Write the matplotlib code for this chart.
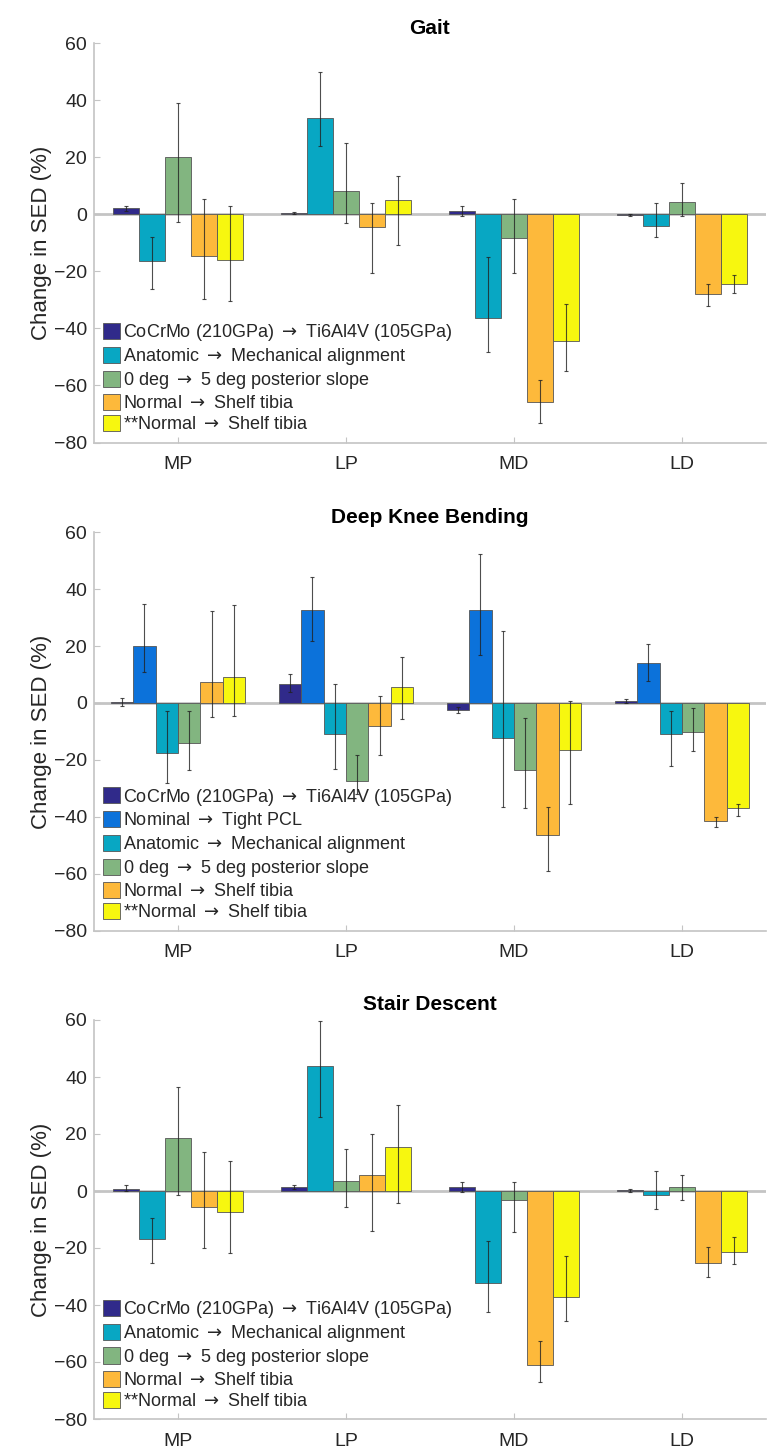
import numpy as np
import matplotlib
matplotlib.use("Agg")
import matplotlib.pyplot as plt

plt.rcParams['font.family'] = ['Liberation Sans', 'DejaVu Sans']
plt.rcParams['mathtext.fontset'] = 'dejavusans'

regions = ['MP', 'LP', 'MD', 'LD']

arr = r'$\rightarrow$'
lbl_mat = 'CoCrMo (210GPa) ' + arr + ' Ti6Al4V (105GPa)'
lbl_pcl = 'Nominal ' + arr + ' Tight PCL'
lbl_align = 'Anatomic ' + arr + ' Mechanical alignment'
lbl_slope = '0 deg ' + arr + ' 5 deg posterior slope'
lbl_shelf = 'Normal ' + arr + ' Shelf tibia'
lbl_shelf2 = '**Normal ' + arr + ' Shelf tibia'

c_mat = '#302A8A'
c_pcl = '#0C72DA'
c_align = '#08A7C3'
c_slope = '#82B580'
c_shelf = '#FDB93B'
c_shelf2 = '#F7F70F'

# Gait: mean change, lower and upper error bounds (per region)
gait_mat = [2.1, 0.5, 1.1, -0.2]
gait_mat_lo = [1.3, 0.2, -0.7, -0.6]
gait_mat_hi = [3.0, 0.9, 2.8, 0.3]
gait_align = [-16.2, 33.8, -36.2, -4.2]
gait_align_lo = [-26.3, 24.1, -48.2, -7.9]
gait_align_hi = [-8.1, 49.9, -15.1, 3.9]
gait_slope = [20.0, 8.1, -8.2, 4.2]
gait_slope_lo = [-2.5, -2.9, -20.5, -0.7]
gait_slope_hi = [38.9, 25.0, 5.3, 11.1]
gait_shelf = [-14.7, -4.5, -65.8, -27.8]
gait_shelf_lo = [-29.7, -20.5, -73.2, -32.2]
gait_shelf_hi = [5.3, 4.1, -58.2, -24.3]
gait_shelf2 = [-15.9, 5.0, -44.5, -24.5]
gait_shelf2_lo = [-30.4, -10.9, -55.0, -27.7]
gait_shelf2_hi = [2.9, 13.4, -31.5, -21.2]

# Deep knee bending
dkb_mat = [0.3, 6.6, -2.5, 0.7]
dkb_mat_lo = [-0.9, 3.8, -3.5, 0.1]
dkb_mat_hi = [1.6, 10.2, -1.5, 1.3]
dkb_pcl = [20.2, 32.8, 32.8, 14.2]
dkb_pcl_lo = [10.9, 21.9, 16.9, 7.7]
dkb_pcl_hi = [34.9, 44.2, 52.5, 20.9]
dkb_align = [-17.7, -10.9, -12.2, -10.9]
dkb_align_lo = [-28.1, -23.1, -36.6, -22.2]
dkb_align_hi = [-2.7, 6.6, 25.3, -2.8]
dkb_slope = [-14.0, -27.4, -23.4, -10.1]
dkb_slope_lo = [-23.7, -32.0, -36.8, -16.9]
dkb_slope_hi = [-2.9, -18.4, -5.2, -1.8]
dkb_shelf = [7.5, -8.1, -46.5, -41.5]
dkb_shelf_lo = [-4.9, -18.3, -59.2, -43.6]
dkb_shelf_hi = [32.4, 2.5, -36.6, -40.1]
dkb_shelf2 = [9.3, 5.7, -16.6, -36.9]
dkb_shelf2_lo = [-4.5, -5.5, -35.4, -39.9]
dkb_shelf2_hi = [34.6, 16.3, 0.6, -35.4]

# Stair descent
sd_mat = [0.8, 1.4, 1.3, 0.2]
sd_mat_lo = [0.0, 0.7, -0.5, -0.5]
sd_mat_hi = [2.1, 2.1, 3.0, 0.7]
sd_align = [-16.8, 43.7, -32.4, -1.3]
sd_align_lo = [-25.2, 25.8, -42.3, -6.3]
sd_align_hi = [-9.6, 59.8, -17.4, 7.1]
sd_slope = [18.5, 3.5, -3.2, 1.4]
sd_slope_lo = [-1.4, -5.6, -14.5, -3.2]
sd_slope_hi = [36.6, 14.6, 3.3, 5.6]
sd_shelf = [-5.5, 5.7, -61.2, -25.4]
sd_shelf_lo = [-20.1, -14.2, -67.1, -30.1]
sd_shelf_hi = [13.6, 20.0, -52.6, -19.5]
sd_shelf2 = [-7.4, 15.6, -37.3, -21.5]
sd_shelf2_lo = [-21.9, -4.3, -45.5, -25.6]
sd_shelf2_hi = [10.6, 30.1, -22.8, -16.3]

panels = [
    ('Gait', [
        (lbl_mat, c_mat, gait_mat, gait_mat_lo, gait_mat_hi),
        (lbl_align, c_align, gait_align, gait_align_lo, gait_align_hi),
        (lbl_slope, c_slope, gait_slope, gait_slope_lo, gait_slope_hi),
        (lbl_shelf, c_shelf, gait_shelf, gait_shelf_lo, gait_shelf_hi),
        (lbl_shelf2, c_shelf2, gait_shelf2, gait_shelf2_lo, gait_shelf2_hi),
    ]),
    ('Deep Knee Bending', [
        (lbl_mat, c_mat, dkb_mat, dkb_mat_lo, dkb_mat_hi),
        (lbl_pcl, c_pcl, dkb_pcl, dkb_pcl_lo, dkb_pcl_hi),
        (lbl_align, c_align, dkb_align, dkb_align_lo, dkb_align_hi),
        (lbl_slope, c_slope, dkb_slope, dkb_slope_lo, dkb_slope_hi),
        (lbl_shelf, c_shelf, dkb_shelf, dkb_shelf_lo, dkb_shelf_hi),
        (lbl_shelf2, c_shelf2, dkb_shelf2, dkb_shelf2_lo, dkb_shelf2_hi),
    ]),
    ('Stair Descent', [
        (lbl_mat, c_mat, sd_mat, sd_mat_lo, sd_mat_hi),
        (lbl_align, c_align, sd_align, sd_align_lo, sd_align_hi),
        (lbl_slope, c_slope, sd_slope, sd_slope_lo, sd_slope_hi),
        (lbl_shelf, c_shelf, sd_shelf, sd_shelf_lo, sd_shelf_hi),
        (lbl_shelf2, c_shelf2, sd_shelf2, sd_shelf2_lo, sd_shelf2_hi),
    ]),
]

W, H = 777, 1452
fig = plt.figure(figsize=(W / 100, H / 100), dpi=100)

# axes boxes in pixels: (top, bottom)
boxes = [(43.3, 442.5), (532.3, 930.5), (1020.0, 1419.0)]
left_px, right_px = 94, 766

grey = '#C4C4C4'
txt = '#262626'

x = np.arange(1, len(regions) + 1)

for (title, series), (top, bot) in zip(panels, boxes):
    ax = fig.add_axes([left_px / W, 1 - bot / H, (right_px - left_px) / W, (bot - top) / H])
    n = len(series)
    group_w = min(0.8, n / (n + 1.5))
    bw = group_w / n
    for i, (lab, col, vals, lo, hi) in enumerate(series):
        vals = np.array(vals)
        err = np.vstack([vals - np.array(lo), np.array(hi) - vals])
        pos = x - group_w / 2 + bw * (i + 0.5)
        ax.bar(pos, vals, width=bw, color=col, edgecolor='#555555',
               linewidth=0.6, label=lab, zorder=2)
        ax.errorbar(pos, vals, yerr=err, fmt='none', ecolor='#222222',
                    elinewidth=0.8, capsize=1.5, capthick=0.8, alpha=0.8, zorder=3)
    ax.axhline(0, color=grey, linewidth=2, zorder=1)

    ax.set_xlim(0.5, 4.5)
    ax.set_ylim(-80, 60)
    ax.set_yticks(np.arange(-80, 61, 20))
    ax.set_xticks(x)
    ax.set_xticklabels(regions)
    for side in ('top', 'right'):
        ax.spines[side].set_visible(False)
    for side in ('left', 'bottom'):
        ax.spines[side].set_color(grey)
        ax.spines[side].set_linewidth(1.2)
    ax.tick_params(direction='in', length=4, width=0.8, color=grey,
                   labelsize=14, labelcolor=txt)
    ax.tick_params(axis='x', pad=10)
    ax.tick_params(axis='y', pad=5)
    ax.set_ylabel('Change in SED (%)', fontsize=16, color=txt, labelpad=1)
    ax.set_title(title, fontsize=15, fontweight='bold', pad=7)

    leg = ax.legend(loc='lower left', frameon=False, fontsize=13,
                    handlelength=0.95, handleheight=1.0, handletextpad=0.15,
                    labelspacing=0.16, borderaxespad=0.3, borderpad=0.2)
    for t in leg.get_texts():
        t.set_color(txt)

fig.savefig('out.png', dpi=100)
